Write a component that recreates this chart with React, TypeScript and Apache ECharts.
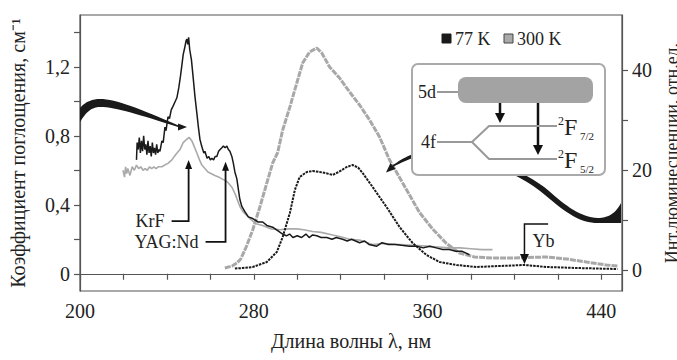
import React, { useEffect, useRef } from "react";
import * as echarts from "echarts";

// ---- data (wavelength nm, value) ----
const abs77: number[][] = [
  [226.0, 0.66], [226.3, 0.76], [226.8, 0.72], [227.3, 0.79], [227.8, 0.7], [228.3, 0.77], [228.8, 0.71],
  [229.3, 0.8], [229.8, 0.72], [230.3, 0.75], [230.8, 0.69], [231.3, 0.77], [231.8, 0.7], [232.3, 0.74],
  [232.8, 0.68], [233.3, 0.76], [233.8, 0.7], [234.3, 0.73], [234.8, 0.69], [235.3, 0.75], [235.8, 0.7],
  [236.3, 0.72], [236.8, 0.71], [237.7, 0.77], [238.3, 0.76], [239.1, 0.85], [239.6, 0.83], [240.5, 0.91],
  [241.2, 0.9], [242.0, 0.95], [242.8, 0.97], [243.5, 0.99], [244.6, 1.02], [245.5, 1.08], [246.3, 1.15],
  [247.0, 1.22], [247.5, 1.27], [248.2, 1.31], [248.8, 1.35], [249.2, 1.36], [249.6, 1.33], [250.0, 1.37],
  [250.5, 1.3], [251.3, 1.24], [252.0, 1.15], [252.9, 1.03], [253.8, 0.93], [254.5, 0.85], [255.2, 0.78],
  [256.0, 0.74], [257.0, 0.7], [257.5, 0.71], [258.5, 0.67], [259.3, 0.68], [260.0, 0.66], [260.7, 0.67],
  [261.5, 0.66], [262.2, 0.68], [263.0, 0.68], [263.8, 0.71], [264.5, 0.72], [265.3, 0.73], [266.0, 0.74],
  [266.8, 0.73], [267.6, 0.74], [268.3, 0.72], [269.0, 0.71], [269.9, 0.68], [270.6, 0.64], [271.3, 0.59],
  [272.2, 0.55], [273.0, 0.48], [273.6, 0.43], [274.5, 0.39], [275.9, 0.36], [277.5, 0.33], [279.5, 0.32],
  [282, 0.3], [284.1, 0.3], [286, 0.28], [288.7, 0.27], [291, 0.25], [293.3, 0.23], [295, 0.22],
  [296.5, 0.23], [298, 0.21], [300, 0.22], [302, 0.21], [304, 0.23], [305.5, 0.21], [307.1, 0.225],
  [309, 0.22], [311, 0.21], [313.6, 0.21], [316, 0.2], [318, 0.21], [320.9, 0.2], [323, 0.19],
  [325, 0.2], [328.7, 0.18], [331, 0.19], [333, 0.17], [336.6, 0.16], [339, 0.18], [342, 0.17],
  [345, 0.17], [348, 0.165], [351.7, 0.16], [355, 0.16], [358, 0.15], [361, 0.16], [364, 0.15],
  [367, 0.14], [370, 0.14], [373, 0.13], [376, 0.13], [379.3, 0.11],
];

const abs300: number[][] = [
  [219.8, 0.6], [220.5, 0.56], [221, 0.62], [221.5, 0.58], [222, 0.61], [223, 0.57], [224, 0.62],
  [225, 0.6], [226, 0.63], [227, 0.61], [228, 0.62], [229, 0.6], [230, 0.61], [231, 0.6], [232, 0.62],
  [233, 0.61], [234, 0.62], [235, 0.61], [236, 0.62], [237.7, 0.62], [239, 0.63], [240.5, 0.64],
  [242.3, 0.66], [244, 0.69], [246, 0.72], [247.5, 0.76], [249.2, 0.78], [250.3, 0.79], [251.5, 0.77],
  [252.5, 0.74], [253.8, 0.7], [255, 0.66], [256.1, 0.63], [257.5, 0.61], [258.9, 0.59], [260.5, 0.58],
  [262.1, 0.57], [264, 0.56], [265.3, 0.55], [267, 0.54], [268, 0.53], [270, 0.5], [271.5, 0.46],
  [273.6, 0.39], [275, 0.36], [278.2, 0.32], [281, 0.29], [284.1, 0.28], [288, 0.26], [292, 0.255],
  [296, 0.26], [299.8, 0.26], [303, 0.255], [307.1, 0.245], [311, 0.24], [316.3, 0.225], [320, 0.215],
  [324.1, 0.2], [328.7, 0.195], [334.7, 0.17], [340, 0.175], [347, 0.17], [353, 0.165], [359.5, 0.16],
  [365, 0.155], [370, 0.15], [375, 0.15], [380, 0.145], [385, 0.14], [389.9, 0.14],
];

const lum300: number[][] = [
  [266.7, 0.4], [270, 0.8], [272.2, 1.4], [274, 2.2], [276.5, 4.6], [279.5, 8], [282.8, 12.6], [286, 17.4],
  [288.7, 21.4], [291, 23.5], [293.3, 28], [296.6, 32.6], [299.8, 37.4], [302.5, 41.4], [305.7, 43.6],
  [309, 44.4], [311.3, 43.4], [314.9, 40.6], [319.5, 38.4], [324.1, 35.6], [328.7, 33], [333.3, 30],
  [337.9, 26.6], [342.5, 22], [347.1, 18.5], [351.7, 15], [356.3, 11.5], [362.3, 8.2], [368.7, 5.3],
  [374.7, 3.4], [381.6, 2.6], [390, 2.4], [400, 2.4], [405.5, 2.5], [414.7, 2.6], [424, 2.2],
  [433.1, 1.6], [442.3, 1.0], [447.4, 0.8],
];

const lum77: number[][] = [
  [271.3, 0.3], [275, 0.4], [279.5, 0.6], [286, 1.6], [290.6, 3.6], [293.3, 6.6], [296.6, 11.4],
  [298.9, 16], [301.1, 18.6], [304.4, 19.6], [307, 19.8], [310.3, 19.6], [313, 19.4], [316.3, 19],
  [319, 19.6], [322.8, 20.6], [325.5, 21], [328, 20.5], [330.1, 19.4], [334.7, 16.6], [337.9, 14.6],
  [341.1, 12.6], [347.1, 8.6], [353.1, 5.4], [359.5, 3], [365.5, 1.6], [373.3, 1], [382.5, 0.6],
  [393.1, 0.8], [399, 0.9], [404.6, 1.0], [410, 0.8], [414.7, 0.6], [428.5, 0.4], [447.4, 0.2],
];

const xTicks = [200, 220, 240, 260, 280, 300, 320, 340, 360, 380, 400, 420, 440];
const xLabels = [200, 280, 360, 440];
const yLeftTicks = [0, 0.2, 0.4, 0.6, 0.8, 1.0, 1.2, 1.4];
const yLeftLabels = [0, 0.4, 0.8, 1.2];
const yRightTicks = [0, 10, 20, 30, 40];
const yRightLabels = [0, 20, 40];
const legendNames = ["77 K", "300 K"];
const legendColors = ["#1a1a1a", "#aaa"];

// pump annotations (wavelength, arrow tip, foot level on left axis)
const pumpNames = ["KrF", "YAG:Nd"];
const pumpWl = [250, 267];
const pumpTip = [0.66, 0.65];
const pumpFoot = [0.305, 0.185];
// Yb annotation (right axis)
const ybWl = 404.6;
const ybTip = 1.2;
const ybTop = 9.2;
const ybEnd = 415.5;

const FONT = "Liberation Serif";

// decorative ribbon outlines: start point followed by cubic segments [c1x,c1y,c2x,c2y,x,y] or line [x,y]
type Seg = number[];
const ribbonLeft: Seg[] = [
  [80, 108], [86, 101, 93, 99, 100, 99], [116, 99, 140, 109, 178, 125.2], [178, 127],
  [140, 115, 116, 107, 100, 107], [92, 107, 86, 112, 80, 122],
];
const ribbonRight: Seg[] = [
  [621, 203], [616, 213, 608, 218, 598, 218], [580, 217, 566, 206, 549, 191], [525, 170, 470, 149, 430, 150],
  [416, 151, 403, 158, 393, 165], [392, 167.5], [404, 161, 417, 155, 430, 154], [470, 153, 518, 172, 545, 195],
  [566, 213, 580, 223, 598, 223], [621, 223],
];

function outline(segs: Seg[]): number[][] {
  const pts: number[][] = [[segs[0][0], segs[0][1]]];
  for (let i = 1; i < segs.length; i++) {
    const s = segs[i];
    const [x0, y0] = pts[pts.length - 1];
    if (s.length === 2) {
      pts.push([s[0], s[1]]);
    } else {
      for (let k = 1; k <= 16; k++) {
        const t = k / 16, u = 1 - t;
        pts.push([
          u * u * u * x0 + 3 * u * u * t * s[0] + 3 * u * t * t * s[2] + t * t * t * s[4],
          u * u * u * y0 + 3 * u * u * t * s[1] + 3 * u * t * t * s[3] + t * t * t * s[5],
        ]);
      }
    }
  }
  return pts;
}

export default function App() {
  const ref = useRef<HTMLDivElement>(null);
  useEffect(() => {
    if (!ref.current) return;
    const chart = echarts.init(ref.current, null, { renderer: "svg" });
    const axisColor = "#555";
    const tx = (size: number) => ({ fontFamily: FONT, fontSize: size, color: "#222" });
    const option: any = {
      animation: false,
      grid: {
        left: 80, right: 55, top: 15, bottom: 69,
        containLabel: false, outerBoundsMode: "none",
        show: true, borderColor: axisColor, borderWidth: 1.2,
      },
      xAxis: {
        type: "value",
        min: 200,
        max: 449.5,
        name: "Длина волны λ, нм",
        nameLocation: "middle",
        nameGap: 40,
        nameTextStyle: tx(20),
        axisLine: { show: true, lineStyle: { color: axisColor, width: 1.2 } },
        axisTick: { show: true, length: 6, customValues: xTicks, lineStyle: { color: axisColor, width: 1.2 } },
        axisLabel: { customValues: xLabels, ...tx(20), margin: 10 },
        splitLine: { show: false },
      },
      yAxis: [
        {
          type: "value",
          min: -0.1,
          max: 1.5,
          position: "left",
          name: "Коэффициент поглощения, см⁻¹",
          nameLocation: "middle",
          nameGap: 52,
          nameRotate: 90,
          nameTextStyle: tx(20),
          axisLine: { show: true, lineStyle: { color: axisColor, width: 1.2 } },
          axisTick: { show: true, length: 6, customValues: yLeftTicks, lineStyle: { color: axisColor, width: 1.2 } },
          axisLabel: {
            customValues: yLeftLabels,
            ...tx(20),
            margin: 10,
            formatter: (v: number) => String(Math.round(v * 10) / 10).replace(".", ","),
          },
          splitLine: { show: false },
        },
        {
          type: "value",
          min: -4.2,
          max: 51,
          position: "right",
          name: "Инт.люминесценции, отн.ед.",
          nameLocation: "middle",
          nameGap: 33,
          nameRotate: 90,
          nameTextStyle: tx(18),
          axisLine: { show: true, lineStyle: { color: axisColor, width: 1.2 } },
          axisTick: { show: true, length: 6, customValues: yRightTicks, lineStyle: { color: axisColor, width: 1.2 } },
          axisLabel: { customValues: yRightLabels, ...tx(20), margin: 10 },
          splitLine: { show: false },
        },
      ],
      series: [
        {
          name: "300 K",
          type: "line",
          data: abs300,
          showSymbol: false,
          color: "#aaa",
          lineStyle: { color: "#aaa", width: 1.6 },
          z: 2,
        },
        {
          name: "77 K",
          type: "line",
          data: abs77,
          showSymbol: false,
          color: "#1a1a1a",
          lineStyle: { color: "#1a1a1a", width: 1.5 },
          z: 3,
        },
        {
          name: "300 K",
          type: "line",
          yAxisIndex: 1,
          data: lum300,
          showSymbol: false,
          color: "#aaa",
          lineStyle: { color: "#a8a8a8", width: 3, type: [6, 1] },
          z: 2,
        },
        {
          name: "77 K",
          type: "line",
          yAxisIndex: 1,
          data: lum77,
          showSymbol: false,
          color: "#1a1a1a",
          lineStyle: { color: "#1a1a1a", width: 2, type: [2.5, 1] },
          z: 3,
        },
      ],
    };
    chart.setOption(option);

    const P = (x: number, y: number, yi = 0) =>
      chart.convertToPixel({ xAxisIndex: 0, yAxisIndex: yi } as any, [x, y]) as number[];

    const graphics: any[] = [];
    const arrowHead = (tx0: number, ty: number, dir: "up" | "down", len = 9, hw = 3.5) => ({
      type: "polygon",
      shape: {
        points:
          dir === "up"
            ? [[tx0, ty], [tx0 - hw, ty + len], [tx0 + hw, ty + len]]
            : [[tx0, ty], [tx0 - hw, ty - len], [tx0 + hw, ty - len]],
      },
      style: { fill: "#111" },
      z: 20,
    });
    const txt = (text: string, x: number, y: number, size: number, align = "left") => ({
      type: "text",
      x,
      y,
      style: { text, fontFamily: FONT, fontSize: size, fill: "#222", align, verticalAlign: "middle" },
      z: 31,
    });

    // legend
    let lx = 442;
    legendNames.forEach((name, i) => {
      graphics.push({
        type: "rect",
        shape: { x: lx, y: 34, width: 9, height: 9 },
        style: { fill: legendColors[i], stroke: i === 0 ? legendColors[i] : "#444", lineWidth: 1 },
        z: 31,
      });
      graphics.push(txt(name, lx + 13, 39, 18));
      lx += 62;
    });

    // pump arrows
    const lineLens = [17, 20];
    pumpNames.forEach((name, i) => {
      const tip = P(pumpWl[i], pumpTip[i]);
      const foot = P(pumpWl[i], pumpFoot[i]);
      const x0 = foot[0] - lineLens[i];
      graphics.push({
        type: "polyline",
        shape: { points: [[x0, foot[1]], [foot[0], foot[1]], [foot[0], tip[1] + 8]] },
        style: { stroke: "#111", lineWidth: 1.8, fill: null },
        z: 20,
      });
      graphics.push(arrowHead(tip[0], tip[1], "up"));
      graphics.push(txt(name, x0 - 7, foot[1], 18, "right"));
    });

    // Yb arrow
    const ybT = P(ybWl, ybTip, 1);
    const ybH = P(ybWl, ybTop, 1);
    const ybE = P(ybEnd, ybTop, 1);
    graphics.push({
      type: "polyline",
      shape: { points: [[ybE[0], ybH[1]], [ybH[0], ybH[1]], [ybT[0], ybT[1] - 8]] },
      style: { stroke: "#111", lineWidth: 1.5, fill: null },
      z: 20,
    });
    graphics.push(arrowHead(ybT[0], ybT[1], "down", 10, 4.5));
    graphics.push(txt("Yb", ybH[0] + 8, ybH[1] + 17, 18));

    // curved ribbons
    graphics.push({ type: "polygon", shape: { points: outline(ribbonLeft) }, style: { fill: "#1a1a1a" }, z: 15 });
    graphics.push({
      type: "polygon",
      shape: { points: [[178, 123.5], [187, 127], [178, 130.5]] },
      style: { fill: "#1a1a1a" },
      z: 15,
    });
    graphics.push({ type: "polygon", shape: { points: outline(ribbonRight) }, style: { fill: "#1a1a1a" }, z: 15 });
    graphics.push({
      type: "polygon",
      shape: { points: [[386, 172.5], [395.5, 169], [390.5, 163]] },
      style: { fill: "#1a1a1a" },
      z: 15,
    });

    // inset diagram
    const g = "#999";
    graphics.push({
      type: "group",
      z: 30,
      children: [
        { type: "rect", shape: { x: 412, y: 64, width: 193, height: 111, r: 6 }, style: { fill: "#fff", stroke: "#aaa", lineWidth: 2 }, z: 30 },
        txt("5d", 418, 92, 18),
        { type: "line", shape: { x1: 437, y1: 92, x2: 458, y2: 92 }, style: { stroke: g, lineWidth: 2 }, z: 31 },
        { type: "rect", shape: { x: 458, y: 77, width: 135, height: 26, r: 8 }, style: { fill: "#a3a3a3" }, z: 31 },
        { type: "line", shape: { x1: 500, y1: 103, x2: 500, y2: 115 }, style: { stroke: "#111", lineWidth: 2.5 }, z: 31 },
        { type: "polygon", shape: { points: [[495, 113], [505, 113], [500, 123]] }, style: { fill: "#111" }, z: 31 },
        { type: "line", shape: { x1: 538, y1: 103, x2: 538, y2: 147 }, style: { stroke: "#111", lineWidth: 2.5 }, z: 31 },
        { type: "polygon", shape: { points: [[533, 145], [543, 145], [538, 155]] }, style: { fill: "#111" }, z: 31 },
        txt("4f", 421, 142, 18),
        { type: "polyline", shape: { points: [[437, 142], [472, 142], [489, 126], [557, 126]] }, style: { stroke: g, lineWidth: 2, fill: null }, z: 31 },
        { type: "polyline", shape: { points: [[472, 142], [489, 159], [557, 159]] }, style: { stroke: g, lineWidth: 2, fill: null }, z: 31 },
        txt("2", 558, 121, 12),
        txt("F", 564, 127, 24),
        txt("7/2", 580, 136, 11),
        txt("2", 558, 154, 12),
        txt("F", 564, 160, 24),
        txt("5/2", 580, 169, 11),
      ],
    });

    chart.setOption({ graphic: graphics });
    return () => chart.dispose();
  }, []);

  return (
    <div
      ref={ref}
      style={{ position: "fixed", left: 0, top: 0, width: 677, height: 360, background: "#fff" }}
    />
  );
}
